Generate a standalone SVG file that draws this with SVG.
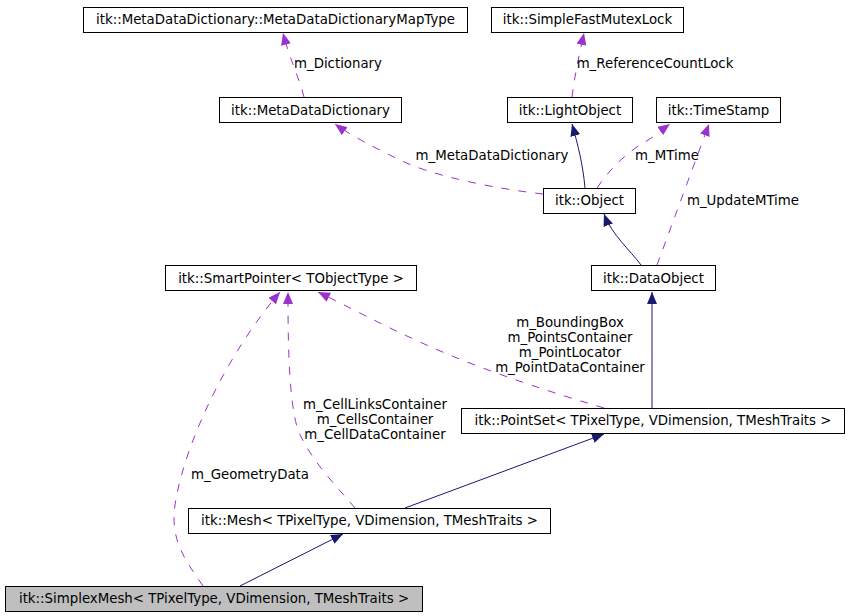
<svg xmlns="http://www.w3.org/2000/svg" width="848" height="616" viewBox="0 0 848 616">
<style>
  .node rect { fill: #ffffff; stroke: #000000; stroke-width: 1; }
  .node.hl rect { fill: #bfbfbf; }
  text { font-family: "DejaVu Sans", "Liberation Sans", sans-serif; font-size: 13.33px; fill: #000000; text-anchor: middle; }
  .inh { fill: none; stroke: #191970; stroke-width: 1; marker-end: url(#ahInh); }
  .use { fill: none; stroke: #9a32cd; stroke-width: 1; stroke-dasharray: 8,9; marker-end: url(#ahUse); }
</style>
<defs>
  <marker id="ahInh" markerUnits="userSpaceOnUse" markerWidth="12" markerHeight="10" viewBox="0 0 12 10" refX="12" refY="5" orient="auto">
    <path d="M0,0 L12,5 L0,10 z" fill="#191970"/>
  </marker>
  <marker id="ahUse" markerUnits="userSpaceOnUse" markerWidth="12" markerHeight="10" viewBox="0 0 12 10" refX="12" refY="5" orient="auto">
    <path d="M0,0 L12,5 L0,10 z" fill="#9a32cd"/>
  </marker>
</defs>
<rect x="0" y="0" width="848" height="616" fill="#ffffff"/>

<g id="edges">
  <path class="use" d="M304,97 C300,80 290,60 283,33"/>
  <text x="338" y="68">m_Dictionary</text>
  <path class="use" d="M572,97 C574,80 578,60 584,33"/>
  <text x="655" y="68">m_ReferenceCountLock</text>
  <path class="use" d="M543,194 C490,188 430,175 400,160 C375,148 350,135 335,124"/>
  <text x="492" y="160">m_MetaDataDictionary</text>
  <path class="inh" d="M585,188 C583,165 578,145 572,124"/>
  <path class="use" d="M597,188 C610,168 630,150 645,142 C655,136 663,129 670,124"/>
  <text x="667" y="160">m_MTime</text>
  <path class="use" d="M657,265 L709,124"/>
  <text x="743" y="205">m_UpdateMTime</text>
  <path class="inh" d="M641,265 C630,250 612,235 604,214"/>
  <path class="inh" d="M652,408 L652,292"/>
  <path class="use" d="M604,408 C560,395 480,370 420,342 C380,324 345,305 318,292"/>
  <text x="570" y="327">m_BoundingBox</text>
  <text x="570" y="342">m_PointsContainer</text>
  <text x="570" y="357">m_PointLocator</text>
  <text x="570" y="372">m_PointDataContainer</text>
  <path class="inh" d="M405,508 L604,434"/>
  <path class="use" d="M355,508 C340,490 310,460 298,430 C288,400 288,330 288,292"/>
  <text x="375" y="409">m_CellLinksContainer</text>
  <text x="375" y="424">m_CellsContainer</text>
  <text x="375" y="439">m_CellDataContainer</text>
  <path class="use" d="M203,586 C185,560 170,540 175,505 C185,440 230,350 280,292"/>
  <text x="250" y="479">m_GeometryData</text>
  <path class="inh" d="M240,586 L343,534"/>
</g>

<g id="n_maptype" class="node"><rect x="83.5" y="7.5" width="384" height="25"/><text x="275.5" y="24">itk::MetaDataDictionary::MetaDataDictionaryMapType</text></g>
<g id="n_mutex" class="node"><rect x="491.5" y="7.5" width="192" height="25"/><text x="587.5" y="24">itk::SimpleFastMutexLock</text></g>
<g id="n_mdd" class="node"><rect x="219.5" y="97.5" width="182" height="25"/><text x="310.5" y="115">itk::MetaDataDictionary</text></g>
<g id="n_lightobject" class="node"><rect x="507.5" y="97.5" width="125" height="25"/><text x="570" y="115">itk::LightObject</text></g>
<g id="n_timestamp" class="node"><rect x="656.5" y="97.5" width="124" height="25"/><text x="718.5" y="115">itk::TimeStamp</text></g>
<g id="n_object" class="node"><rect x="543.5" y="188.5" width="92" height="25"/><text x="589.5" y="205">itk::Object</text></g>
<g id="n_smartpointer" class="node"><rect x="165.5" y="265.5" width="251" height="25"/><text x="291" y="283">itk::SmartPointer&lt; TObjectType &gt;</text></g>
<g id="n_dataobject" class="node"><rect x="591.5" y="265.5" width="124" height="25"/><text x="653.5" y="283">itk::DataObject</text></g>
<g id="n_pointset" class="node"><rect x="461.5" y="408.5" width="383" height="25"/><text x="653" y="425">itk::PointSet&lt; TPixelType, VDimension, TMeshTraits &gt;</text></g>
<g id="n_mesh" class="node"><rect x="188.5" y="508.5" width="362" height="25"/><text x="369.5" y="525">itk::Mesh&lt; TPixelType, VDimension, TMeshTraits &gt;</text></g>
<g id="n_simplexmesh" class="node hl"><rect x="5.5" y="586.5" width="417" height="25"/><text x="214" y="603">itk::SimplexMesh&lt; TPixelType, VDimension, TMeshTraits &gt;</text></g>
</svg>
